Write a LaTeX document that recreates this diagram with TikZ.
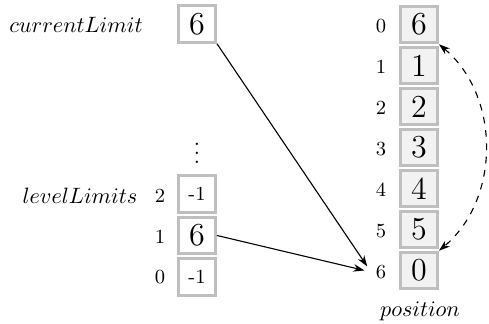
\documentclass[tikz,border=0pt]{standalone}
\usetikzlibrary{arrows.meta}
\begin{document}
\begin{tikzpicture}[x=0.45pt,y=-0.45pt,
  cell/.style={draw=black!25, line width=1.4pt, minimum width=16.6pt, minimum height=16.4pt, inner sep=0pt, fill=white},
  pcell/.style={cell, fill=black!5},
  big/.style={font=\Large},
  small/.style={font=\small},
  idx/.style={font=\small, inner sep=2pt},
  tip/.style={Stealth[length=5pt,width=3.4pt]},
  arr/.style={-{Stealth[length=5pt,width=3.4pt]}, line width=0.5pt},
]
\useasboundingbox (0,0) rectangle (489,324);
% current limit
\node (cllab) at (76,25) {$currentLimit$};
\node[cell, big] (cl) at (197,24) {6};
% level limits
\node (vd) at (197,147) {$\vdots$};
\node[cell, small] (ll2) at (197,194) {-1};
\node[cell, big] (ll1) at (197,235.5) {6};
\node[cell, small] (ll0) at (197,277) {-1};
\node (lllab) at (80,196) {$levelLimits$};
\node[idx] (li2) at (160,196) {2};
\node[idx] (li1) at (160,237) {1};
\node[idx] (li0) at (160,277) {0};
% position
\foreach \i/\v in {0/6,1/1,2/2,3/3,4/4,5/5,6/0}{
  \node[pcell, big] (p\i) at (419,24.5+41*\i) {\v};
  \node[idx] (pl\i) at (381,26+41*\i) {\i};
}
\node (poslab) at (420,311) {$position$};
% arrows
\draw[arr, shorten >=3pt] (cl.south east) -- (pl6.west);
\draw[arr, shorten >=3pt] (ll1.east) -- (pl6.west);
\draw[dashed, line width=0.5pt, {Stealth[length=5pt,width=3.4pt]}-{Stealth[length=5pt,width=3.4pt]}] (p0.south east) to[bend left=50] (p6.north east);
\end{tikzpicture}
\end{document}
